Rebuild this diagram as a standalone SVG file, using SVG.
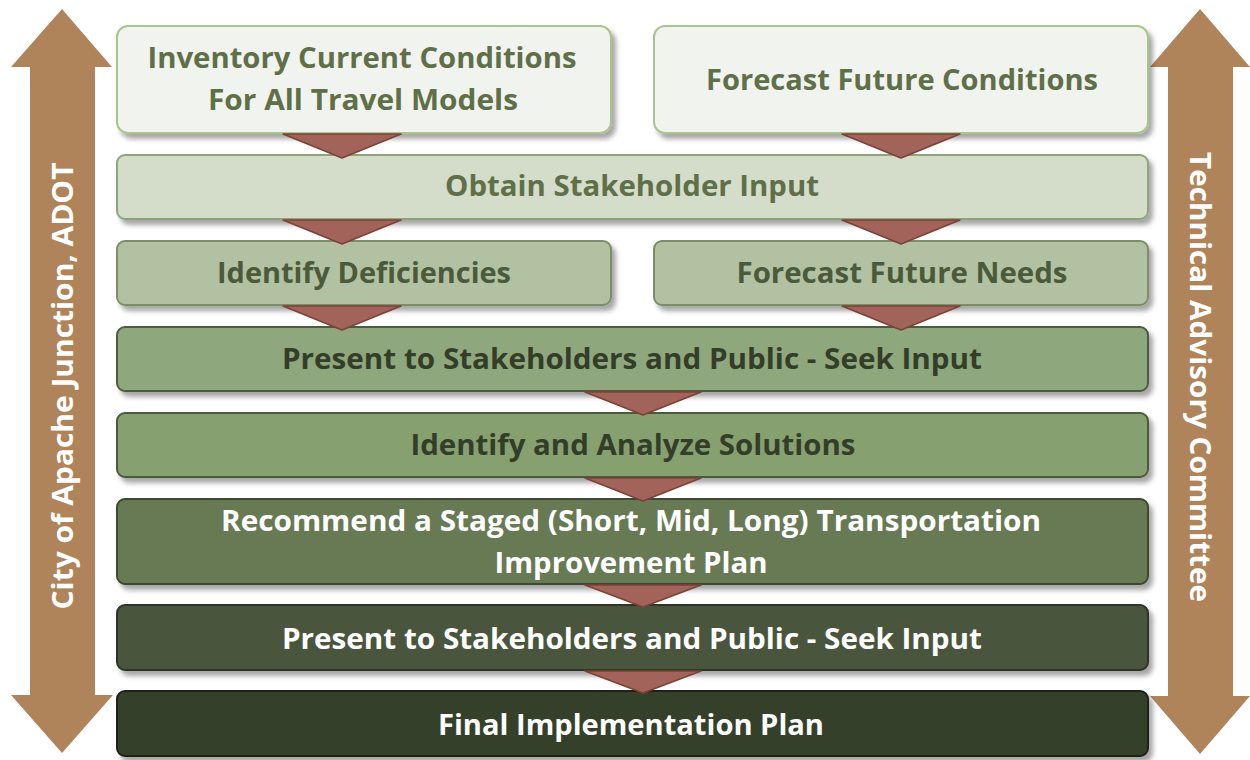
<svg xmlns="http://www.w3.org/2000/svg" width="1250" height="760" viewBox="0 0 1250 760">
<defs>
<filter id="sh" x="-5%" y="-20%" width="115%" height="160%">
<feDropShadow dx="4" dy="5" stdDeviation="2.5" flood-color="#000" flood-opacity="0.35"/>
</filter>
<style>
.t{font-family:"Open Sans","Liberation Sans",sans-serif;font-weight:700;font-size:29px;text-anchor:middle}
.b{stroke-width:2}
.c{fill:#a2645a;stroke:#7b4237;stroke-width:1.5;stroke-linejoin:round}
.arr{fill:#b0845b}
</style>
</defs>
<g id="left-arrow">
<polygon class="arr" points="62,9 112,67 95,67 95,695 113,695 62,753 11,695 30,695 30,67 11,67"/>
<text class="t" fill="#ffffff" font-size="30" transform="translate(73,386) rotate(-90)" textLength="447" lengthAdjust="spacingAndGlyphs">City of Apache Junction, ADOT</text>
</g>
<g id="right-arrow">
<polygon class="arr" points="1200,9 1250,67 1233,67 1233,696 1250,696 1200,754 1150,696 1168,696 1168,67 1150,67"/>
<text class="t" fill="#ffffff" font-size="30" transform="translate(1190,377) rotate(90)" textLength="450" lengthAdjust="spacingAndGlyphs">Technical Advisory Committee</text>
</g>
<g id="n1">
<rect class="b" x="117" y="26" width="494" height="107" rx="11" fill="#f0f3ee" stroke="#a9c48c" filter="url(#sh)"/>
<text class="t" fill="#5f7049" x="362" y="68" textLength="429" lengthAdjust="spacingAndGlyphs">Inventory Current Conditions</text>
<text class="t" fill="#5f7049" x="363" y="110" textLength="310" lengthAdjust="spacingAndGlyphs">For All Travel Models</text>
</g>
<g id="n2">
<rect class="b" x="654" y="26" width="494" height="107" rx="11" fill="#f0f3ee" stroke="#a9c48c" filter="url(#sh)"/>
<text class="t" fill="#5f7049" x="902" y="90" textLength="392" lengthAdjust="spacingAndGlyphs">Forecast Future Conditions</text>
</g>
<g id="n3">
<rect class="b" x="117" y="155" width="1031" height="64" rx="8" fill="#d4ddca" stroke="#8fa47a" filter="url(#sh)"/>
<text class="t" fill="#5f7049" x="632" y="196" textLength="374" lengthAdjust="spacingAndGlyphs">Obtain Stakeholder Input</text>
</g>
<g id="n4">
<rect class="b" x="117" y="241" width="494" height="64" rx="8" fill="#b2c1a1" stroke="#7b8e68" filter="url(#sh)"/>
<text class="t" fill="#4b5a3b" x="364" y="283" textLength="294" lengthAdjust="spacingAndGlyphs">Identify Deficiencies</text>
</g>
<g id="n5">
<rect class="b" x="654" y="241" width="494" height="64" rx="8" fill="#b2c1a1" stroke="#7b8e68" filter="url(#sh)"/>
<text class="t" fill="#4b5a3b" x="902" y="283" textLength="331" lengthAdjust="spacingAndGlyphs">Forecast Future Needs</text>
</g>
<g id="n6">
<rect class="b" x="117" y="327" width="1031" height="64" rx="8" fill="#8fa77b" stroke="#4d5c40" filter="url(#sh)"/>
<text class="t" fill="#333e29" x="632" y="369" textLength="700" lengthAdjust="spacingAndGlyphs">Present to Stakeholders and Public - Seek Input</text>
</g>
<g id="n7">
<rect class="b" x="117" y="413" width="1031" height="64" rx="8" fill="#87a06f" stroke="#4a5a3c" filter="url(#sh)"/>
<text class="t" fill="#333e29" x="633" y="455" textLength="445" lengthAdjust="spacingAndGlyphs">Identify and Analyze Solutions</text>
</g>
<g id="n8">
<rect class="b" x="117" y="499" width="1031" height="85" rx="8" fill="#677a52" stroke="#3c4830" filter="url(#sh)"/>
<text class="t" fill="#ffffff" x="631" y="531" textLength="820" lengthAdjust="spacingAndGlyphs">Recommend a Staged (Short, Mid, Long) Transportation</text>
<text class="t" fill="#ffffff" x="631" y="573" textLength="273" lengthAdjust="spacingAndGlyphs">Improvement Plan</text>
</g>
<g id="n9">
<rect class="b" x="117" y="605" width="1031" height="65" rx="8" fill="#4a563c" stroke="#2d3525" filter="url(#sh)"/>
<text class="t" fill="#ffffff" x="632" y="649" textLength="700" lengthAdjust="spacingAndGlyphs">Present to Stakeholders and Public - Seek Input</text>
</g>
<g id="n10">
<rect class="b" x="117" y="691" width="1031" height="65" rx="8" fill="#363f2c" stroke="#1d2318" filter="url(#sh)"/>
<text class="t" fill="#ffffff" x="631" y="735" textLength="386" lengthAdjust="spacingAndGlyphs">Final Implementation Plan</text>
</g>
<g id="connectors">
<polygon class="c" points="283,134 401,134 342,158"/>
<polygon class="c" points="842,134 960,134 901,158"/>
<polygon class="c" points="283,220 401,220 342,244"/>
<polygon class="c" points="842,220 960,220 901,244"/>
<polygon class="c" points="283,306 401,306 342,330"/>
<polygon class="c" points="842,306 960,306 901,330"/>
<polygon class="c" points="585,392 701,392 643,415"/>
<polygon class="c" points="585,478 701,478 643,501"/>
<polygon class="c" points="585,585 701,585 643,607"/>
<polygon class="c" points="585,671 701,671 643,693"/>
</g>
</svg>
